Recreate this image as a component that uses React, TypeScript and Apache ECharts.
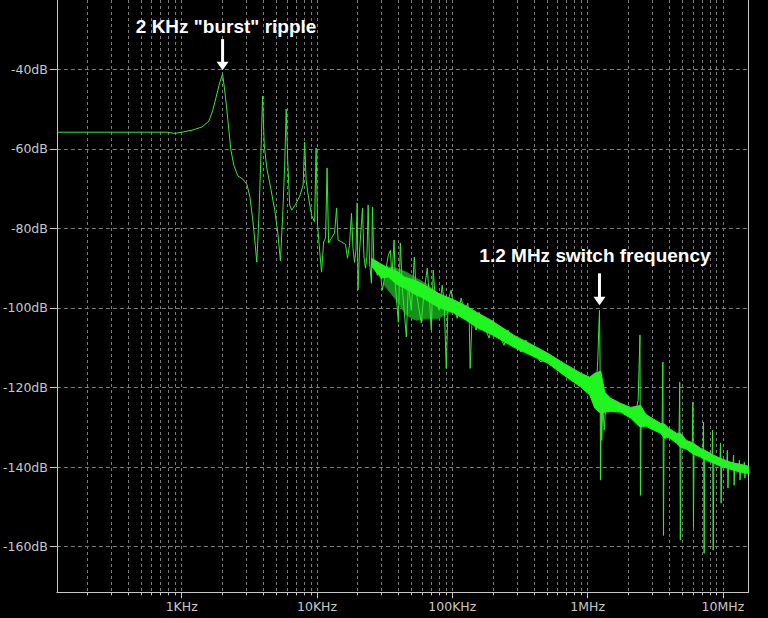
import React, { useEffect, useRef } from "react";
import * as echarts from "echarts";

// ---------- data (frequency in Hz, magnitude in dB) ----------
const freqA = [120, 780, 880, 972, 1191, 1411, 1589, 1701, 1820, 1915, 2005, 2068, 2139, 2212, 2309, 2429, 2600, 2830, 3028, 3187, 3353, 3498, 3588, 3712, 3840, 3959, 4075, 4252, 4551, 4871, 5124, 5366, 5578, 5771, 5920, 6073, 6283, 6500, 6955, 7444, 7898, 8102, 8310, 8674, 9126, 9601, 9848, 10102, 10450];
const dbA = [-55.8, -55.8, -56.1, -55.9, -55.3, -54.5, -53.0, -50.2, -46.2, -43.2, -41.2, -44.7, -49.0, -54.0, -60.3, -64.1, -66.8, -67.6, -68.9, -71.9, -77.9, -84.2, -88.5, -77.9, -62.8, -46.7, -59.0, -64.8, -69.9, -75.4, -80.9, -88.2, -76.7, -64.1, -50.0, -62.8, -74.1, -75.4, -73.9, -71.9, -69.1, -58.3, -67.9, -72.4, -76.7, -78.4, -59.8, -79.2, -85.5];

const freqB = [
  10810, 11190, 11570, 11870, 12180, 12810, 13480, 13950, 14310, 15180,
  16240, 16800, 17380, 17980, 18450, 18920, 19410, 19810, 20080, 20600,
  21680, 22230, 22810, 23400, 23880, 24410, 25250, 25680, 26350, 27970,
  28930, 30440, 32030, 33700, 34870, 35770, 37130, 37950, 39930, 41310,
  42740, 45740, 47320, 49790, 52390, 54200, 58980, 62060, 65310, 67570,
  69900, 72310, 74810, 80070, 84250, 87160, 90170, 93280, 98140, 101500,
  108700, 116300, 122400, 130300, 133200, 135500, 140200, 150000,
];
const dbB = [
  -91.0, -83.4, -82.4, -64.8, -83.7, -82.4, -81.2, -74.9, -82.9, -83.4,
  -84.0, -87.5, -84.2, -76.2, -85.0, -88.5, -85.5, -73.6, -95.5, -86.0,
  -74.9, -87.0, -90.0, -87.0, -74.1, -88.0, -93.8, -74.6, -89.0, -91.8,
  -89.5, -95.5, -91.0, -86.7, -85.5, -92.5, -82.9, -94.3, -103.6, -83.7,
  -95.0, -107.3, -93.8, -100.6, -87.2, -96.0, -103.8, -95.5, -90.0, -97.0,
  -105.6, -90.5, -97.5, -100.6, -94.3, -98.8, -115.2, -98.0, -95.5, -99.3,
  -102.6, -97.5, -101.1, -98.8, -102.1, -115.2, -102.3, -105.6,
];

const freqC = [157800, 168900, 187000, 200200, 217900, 241300, 258200, 285900, 321900, 350400, 381500, 451900, 508900, 583000, 667700, 818500, 969900, 1092000];
const dbC = [-101.1, -103.8, -107.6, -103.1, -106.3, -109.4, -105.6, -108.4, -111.1, -108.1, -110.6, -113.6, -112.6, -114.1, -115.4, -117.4, -118.9, -120.7];

const freqD = [
  1169000, 1189000, 1209000, 1224000, 1236000, 1247000, 1262000, 1272000, 1294000, 1327000,
  1362000, 1534000, 1912000, 2266000, 2364000, 2438000, 2458000, 2488000, 2552000, 3182000,
  3552000, 3601000, 3638000, 3675000, 4245000, 4740000, 4797000, 4846000, 4904000, 5383000,
  5939000, 6000000, 6061000, 6123000, 6711000, 7122000, 7195000, 7269000, 7343000, 7818000,
  8309000, 8394000, 8480000, 8567000, 8954000, 9504000, 9601000, 9700000, 9798000, 10260000,
  10680000, 10790000, 10900000, 11020000, 11360000, 11870000, 11990000, 12110000, 12240000, 12570000,
  13120000, 13250000, 13390000, 13530000, 14280000, 14400000, 14550000, 14700000, 15490000,
];
const dbD = [
  -117.7, -113.1, -105.6, -100.6, -113.1, -143.3, -123.2, -133.3, -124.5, -130.7,
  -124.5, -124.5, -125.7, -126.2, -123.2, -106.8, -147.1, -128.2, -127.7, -129.5,
  -129.7, -113.6, -157.2, -131.3, -132.3, -132.3, -118.7, -158.4, -133.8, -134.5,
  -134.5, -123.7, -155.2, -135.8, -136.3, -136.3, -128.7, -161.7, -137.0, -137.3,
  -137.8, -130.7, -160.9, -138.0, -138.5, -138.8, -134.0, -149.1, -139.1, -139.3,
  -139.6, -135.8, -145.3, -139.6, -139.8, -139.8, -137.0, -144.6, -140.1, -140.3,
  -140.3, -138.3, -143.3, -140.6, -140.6, -138.8, -142.8, -140.8, -140.8,
];

// dense noise band (upper / lower envelope)
const bandFreq = [25250, 29930, 33700, 38600, 44210, 52390, 58980, 78730, 103300, 126600, 155200, 193500, 285900, 381400, 508900, 667700, 891200, 1038000, 1130000, 1252000, 1339000, 1483000, 1757000, 2082000, 2305000, 2466000, 2685000, 3075000, 3464000, 3706000, 3967000, 4543000, 4862000, 5383000, 6061000, 6827000, 7557000, 8511000, 9585000, 10790000, 11950000, 13460000, 15410000];
const bandHigh = [-87.5, -89.0, -90.0, -90.7, -92.2, -93.0, -93.8, -96.3, -98.0, -99.5, -101.3, -103.1, -106.9, -109.1, -111.4, -113.9, -116.4, -117.4, -116.4, -115.9, -121.2, -122.7, -124.0, -125.0, -124.7, -124.5, -126.7, -128.0, -129.0, -129.2, -130.2, -131.5, -131.5, -133.3, -134.0, -135.3, -136.0, -137.0, -137.8, -138.5, -139.0, -139.3, -139.8];
const bandLow = [-89.5, -92.5, -92.2, -94.0, -95.0, -96.5, -97.3, -99.8, -101.3, -103.1, -105.1, -106.6, -109.9, -111.9, -113.9, -116.9, -119.9, -121.9, -125.2, -126.5, -126.2, -126.0, -126.2, -127.7, -129.2, -130.0, -129.7, -130.7, -131.5, -132.8, -132.5, -134.0, -135.0, -135.5, -136.8, -137.5, -138.3, -139.0, -139.8, -140.3, -140.8, -141.3, -141.6];

// darker, sparser spread of the noise around 30-90 kHz
const shadeFreq = [31490, 38600, 45740, 54200, 64210, 78730, 93280];
const shadeHigh = [-89.5, -90.0, -91.0, -92.5, -94.0, -96.3, -98.5];
const shadeLow = [-94.3, -98.0, -101.8, -103.1, -102.6, -102.6, -101.3];

// axes
const xMinFreq = 119.5;
const xMaxFreq = 15410000;
const yMinDb = -171.5;
const yMaxDb = -22.56;
const xTickFreq = [1e3, 1e4, 1e5, 1e6, 1e7];
const xTickLabels = ["1KHz", "10KHz", "100KHz", "1MHz", "10MHz"];
const gridDecades = [100, 1e3, 1e4, 1e5, 1e6, 1e7];
const gridSteps = [1, 2, 3, 4, 5, 6, 7, 8, 9];
const yTicks = [-40, -60, -80, -100, -120, -140, -160];

// annotations
const annoFreq = [2005, 1224000];
const annoDb = [-41.2, -100.6];
const annoText = ['2 KHz "burst" ripple', "1.2 MHz switch frequency"];

// ---------- styles ----------
const LABEL_COLOR = "#c8c8c8";
const AXIS_COLOR = "#c8c8c8";
const GRID_COLOR = "#7c7c7c";
const LINE_COLOR = "#33ea33";
const BAND_COLOR = "#1cf81c";
const SHADE_COLOR = "#15901a";
const annoLayout = [
  { tipDy: -4, shaft: 31, textDx: 3.5, textDy: -47.5 },
  { tipDy: -5, shaft: 32, textDx: -4.5, textDy: -55 },
];

const lg = (v: number) => Math.log10(v);

function envelopeSeries(name: string, freqs: number[], hi: number[], lo: number[], color: string) {
  return {
    type: "custom",
    name,
    silent: true,
    clip: true,
    encode: { x: 0, y: 1 },
    data: [[lg(freqs[0]), hi[0]]],
    renderItem: (_params: any, api: any) => {
      const top = freqs.map((f, i) => api.coord([lg(f), hi[i]]));
      const bottom = freqs.map((f, i) => api.coord([lg(f), lo[i]])).reverse();
      return {
        type: "polygon",
        shape: { points: [...top, ...bottom] },
        style: { fill: color, stroke: color, lineWidth: 1 },
      };
    },
  };
}

export default function App() {
  const ref = useRef<HTMLDivElement>(null);

  useEffect(() => {
    document.body.style.margin = "0";
    document.body.style.background = "#000";
    if (!ref.current) return;
    const chart = echarts.init(ref.current, null, { renderer: "svg" });

    const xMin = lg(xMinFreq);
    const xMax = lg(xMaxFreq);
    const gridVals: number[] = [];
    gridDecades.forEach((d) =>
      gridSteps.forEach((m) => {
        const v = d * m;
        if (v > xMinFreq && v < xMaxFreq) gridVals.push(lg(v));
      })
    );
    const majorVals = xTickFreq.map(lg);

    const traceF = [...freqA, ...freqB, ...freqC, ...freqD];
    const traceV = [...dbA, ...dbB, ...dbC, ...dbD];

    const labelFont = { color: LABEL_COLOR, fontFamily: "DejaVu Sans", fontSize: 12.5 };

    chart.setOption({
      animation: false,
      backgroundColor: "#000",
      grid: { left: 54.5, right: 19.7, top: 0, bottom: 25.7, containLabel: false },
      xAxis: [
        {
          type: "value",
          min: xMin,
          max: xMax,
          position: "bottom",
          axisLine: { show: true, onZero: false, lineStyle: { color: AXIS_COLOR, width: 1 } },
          axisTick: { show: true, customValues: gridVals, length: 3, lineStyle: { color: AXIS_COLOR } },
          axisLabel: { show: false },
          splitLine: { show: true, lineStyle: { color: GRID_COLOR, type: [3, 3], width: 1 } },
        },
        {
          type: "value",
          min: xMin,
          max: xMax,
          position: "bottom",
          axisLine: { show: false, onZero: false },
          axisTick: { show: true, customValues: majorVals, length: 6, lineStyle: { color: AXIS_COLOR } },
          axisLabel: {
            show: true,
            customValues: majorVals,
            margin: 8,
            ...labelFont,
            formatter: (v: number) => {
              const i = majorVals.findIndex((m) => Math.abs(m - v) < 1e-6);
              return i >= 0 ? xTickLabels[i] : "";
            },
          },
          splitLine: { show: false },
        },
      ],
      yAxis: [
        {
          type: "value",
          min: yMinDb,
          max: yMaxDb,
          position: "left",
          axisLine: { show: true, onZero: false, lineStyle: { color: AXIS_COLOR, width: 1 } },
          axisTick: { show: true, customValues: yTicks, length: 7, lineStyle: { color: AXIS_COLOR } },
          axisLabel: { show: true, customValues: yTicks, margin: 9, ...labelFont, formatter: (v: number) => `${v}dB` },
          splitLine: { show: true, lineStyle: { color: GRID_COLOR, type: [4, 3], width: 1 } },
        },
        {
          type: "value",
          min: yMinDb,
          max: yMaxDb,
          position: "right",
          axisLine: { show: true, onZero: false, lineStyle: { color: AXIS_COLOR, width: 1 } },
          axisTick: { show: false },
          axisLabel: { show: false },
          splitLine: { show: false },
        },
      ],
      series: [
        envelopeSeries("shade", shadeFreq, shadeHigh, shadeLow, SHADE_COLOR),
        envelopeSeries("band", bandFreq, bandHigh, bandLow, BAND_COLOR),
        {
          type: "line",
          name: "V(out)",
          symbol: "none",
          lineStyle: { color: LINE_COLOR, width: 1 },
          data: traceF.map((f, i) => [lg(f), traceV[i]]),
        },
      ],
    });

    const graphics: any[] = [];
    annoFreq.forEach((f, i) => {
      const p = chart.convertToPixel({ xAxisIndex: 0, yAxisIndex: 0 }, [lg(f), annoDb[i]]) as number[];
      const L = annoLayout[i];
      const x = p[0];
      const tip = p[1] + L.tipDy;
      graphics.push(
        {
          type: "line",
          shape: { x1: x, y1: tip - L.shaft, x2: x, y2: tip - 6 },
          style: { stroke: "#ffffff", lineWidth: 3 },
        },
        {
          type: "polygon",
          shape: { points: [[x - 6, tip - 8.5], [x + 6, tip - 8.5], [x, tip]] },
          style: { fill: "#ffffff" },
        },
        {
          type: "text",
          x: x + L.textDx,
          y: p[1] + L.textDy,
          style: {
            text: annoText[i],
            fill: "#ffffff",
            fontFamily: "Liberation Sans",
            fontWeight: "bold",
            fontSize: 19,
            align: "center",
            verticalAlign: "middle",
          },
        }
      );
    });
    chart.setOption({ graphic: graphics });

    return () => chart.dispose();
  }, []);

  return <div ref={ref} style={{ width: 768, height: 618, background: "#000" }} />;
}
